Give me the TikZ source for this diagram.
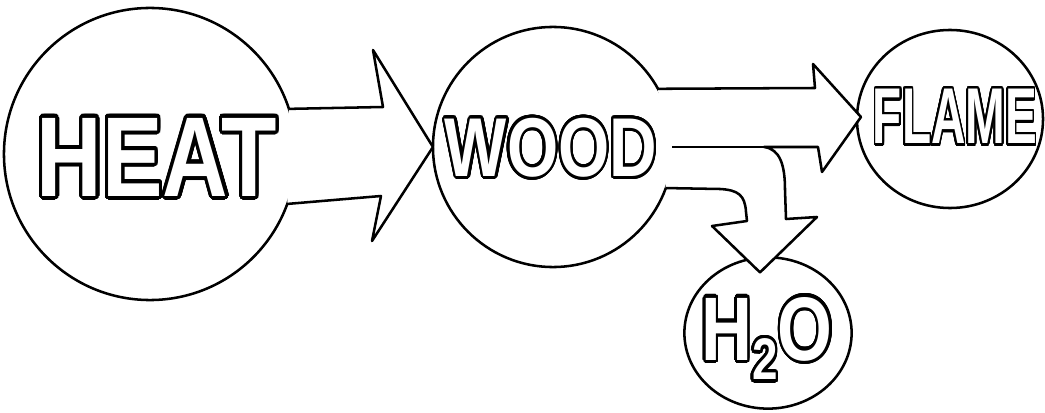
\documentclass[tikz,border=0pt]{standalone}
\usepackage{fontspec}
\setmainfont{Liberation Sans}
\usepackage{contour}
\contourlength{0.35pt}
\contournumber{32}
\usetikzlibrary{shapes.geometric,calc}

\tikzset{
  blob/.style={draw, circle, line width=1.8pt, inner sep=0pt, outer sep=0pt},
  oval/.style={draw, ellipse, line width=1.8pt, inner sep=0pt, outer sep=0pt},
  fatarrow/.style={draw, fill=white, line width=1.8pt, line join=round},
  word/.style={text=white, inner sep=0pt, font=\bfseries},
}
\newcommand{\sketchword}[3]{\resizebox*{#1}{#2}{\contour{black}{#3}}}

\begin{document}
\begin{tikzpicture}[x=0.025cm, y=-0.025cm]
  \useasboundingbox (0,0) rectangle (1045,413);
  % the four blobs
  \node[blob, minimum size=7.3cm] (heat) at (150,154) {};
  \node[blob, minimum size=6cm] (wood) at (553,147) {};
  \node[oval, minimum width=4.65cm, minimum height=4.45cm] (flame) at (950,119) {};
  \node[oval, minimum width=4.18cm, minimum height=3.78cm] (water) at (768,333) {};
  % heat -> wood
  \draw[fatarrow] (heat.18) -- (383,107) -- (373,50) -- (wood.west)
    -- (372,241) -- (381,196) -- (heat.-20);
  % wood -> flame, and bent off to water
  \coordinate (fork) at (764,147);
  \draw[fatarrow] (wood.29) -- (815,88) -- (813,64) -- ($(flame.west)+(4,-2)$)
    -- (822,172) -- (818,147) -- (fork)
    .. controls (780,149) and (785,165) .. (785,190) -- (786,219)
    -- (817,217) -- ($(water.north)+(-8,15)$) -- (712,226) -- (747,221)
    -- (746,212) .. controls (745,195) and (738,190) .. (720,189) -- (wood.-20);
  \draw[line width=1.8pt] (672,147) -- (fork);
  % hollow lettering
  \node[word] (heatword) at (157,159) {\sketchword{6cm}{2.05cm}{HEAT}};
  \node[word] (woodword) at (551,149) {\sketchword{5.3cm}{1.55cm}{WOOD}};
  \node[word] (flameword) at (955,118) {\sketchword{4.1cm}{1.43cm}{FLAME}};
  \node[word] (waterword) at (767,340)
    {\sketchword{3.28cm}{2.15cm}{H\raisebox{-0.22em}{\scalebox{0.65}{2}}O}};
\end{tikzpicture}
\end{document}
